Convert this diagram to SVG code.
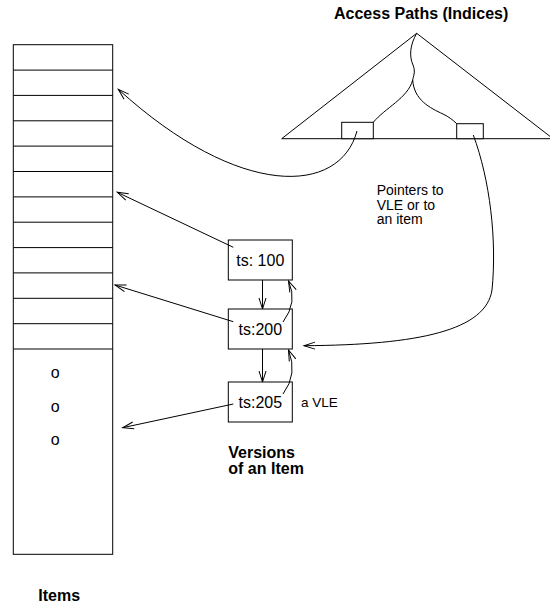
<svg xmlns="http://www.w3.org/2000/svg" width="550" height="606" viewBox="0 0 550 606">
<style>
  .ln { fill: none; stroke: #000; stroke-width: 1; }
  .box { fill: #fff; stroke: #000; stroke-width: 1; }
  .t { font-family: "Liberation Sans", Arial, sans-serif; fill: #000; }
  .b { font-weight: bold; font-size: 16px; }
  .ts { font-size: 16px; }
  .sm { font-size: 14px; }
</style>
<defs>
  <marker id="ah" viewBox="-12 -6 14 12" refX="0" refY="0" markerWidth="14" markerHeight="12" markerUnits="userSpaceOnUse" orient="auto">
    <path d="M-11,-3.5 L0,0 L-11,3.5" fill="none" stroke="#000" stroke-width="1"/>
  </marker>
</defs>
<rect width="550" height="606" fill="#fff"/>

<g id="title">
  <text class="t b" x="334" y="18.5" font-size="16.7">Access Paths (Indices)</text>
</g>

<g id="index-tree">
  <path class="ln" d="M416.7,33.3 L281.7,138.7 L553,138.7 Z"/>
  <path class="ln" d="M416.7,33.3 C410,45 409,56 413,65 C416,72 413,77 412.7,80"/>
  <path class="ln" d="M412.7,80 C408,98 385,108 373.3,122.3"/>
  <path class="ln" d="M412.7,80 C414,100 430,108 443,114 C449,117 453,120 456.7,123.7"/>
  <rect class="box" x="341.7" y="122.3" width="31.6" height="16.4"/>
  <rect class="box" x="456.7" y="123.7" width="26.6" height="15"/>
</g>

<g id="items">
  <rect class="box" x="13.3" y="44.7" width="99.4" height="509.6"/>
  <path class="ln" d="M13.3,70.1H112.7M13.3,95.4H112.7M13.3,120.8H112.7M13.3,146.1H112.7M13.3,171.5H112.7M13.3,196.9H112.7M13.3,222.2H112.7M13.3,247.6H112.7M13.3,272.9H112.7M13.3,298.3H112.7M13.3,323.7H112.7M13.3,349H112.7"/>
  <text class="t ts" x="55.3" y="377.6" text-anchor="middle">o</text>
  <text class="t ts" x="55.3" y="411.8" text-anchor="middle">o</text>
  <text class="t ts" x="55.3" y="444.8" text-anchor="middle">o</text>
</g>

<g id="v100">
  <rect class="box" x="228.3" y="240" width="64" height="40"/>
  <text class="t ts" x="260.3" y="265.5" text-anchor="middle">ts: 100</text>
</g>
<g id="v200">
  <rect class="box" x="228.3" y="309" width="64" height="40"/>
  <text class="t ts" x="260.3" y="334.5" text-anchor="middle">ts:200</text>
</g>
<g id="v205">
  <rect class="box" x="228.3" y="382" width="64" height="40"/>
  <text class="t ts" x="260.3" y="407.5" text-anchor="middle">ts:205</text>
</g>

<g id="labels">
  <text class="t sm" x="376.7" y="195">Pointers to</text>
  <text class="t sm" x="376.7" y="209.5">VLE or to</text>
  <text class="t sm" x="376.7" y="224">an item</text>
  <text class="t" font-size="13.5" x="301" y="407">a VLE</text>
  <text class="t b" x="228.3" y="457.5">Versions</text>
  <text class="t b" x="228.3" y="473.5">of an Item</text>
  <text class="t b" x="38.3" y="601">Items</text>
</g>

<g id="connectors">
  <path class="ln" marker-end="url(#ah)" d="M357,131 C340,195 240,200 118.3,89.3"/>
  <path class="ln" marker-end="url(#ah)" d="M473.3,135 C490,180 497,240 492,290 C486,330 420,345 304,345.7"/>
  <path class="ln" marker-end="url(#ah)" d="M233.3,247.3 L117.3,192.3"/>
  <path class="ln" marker-end="url(#ah)" d="M233.3,321.7 L115,285"/>
  <path class="ln" marker-end="url(#ah)" d="M233.3,404 L122.7,427.7"/>
  <path class="ln" marker-end="url(#ah)" d="M262.5,280 L262.5,309"/>
  <path class="ln" marker-end="url(#ah)" d="M262.5,349 L262.5,382"/>
  <path class="ln" marker-end="url(#ah)" d="M283,322 Q298,302 288.5,281"/>
  <path class="ln" marker-end="url(#ah)" d="M283,394 Q298,374 288.5,350"/>
</g>
</svg>
